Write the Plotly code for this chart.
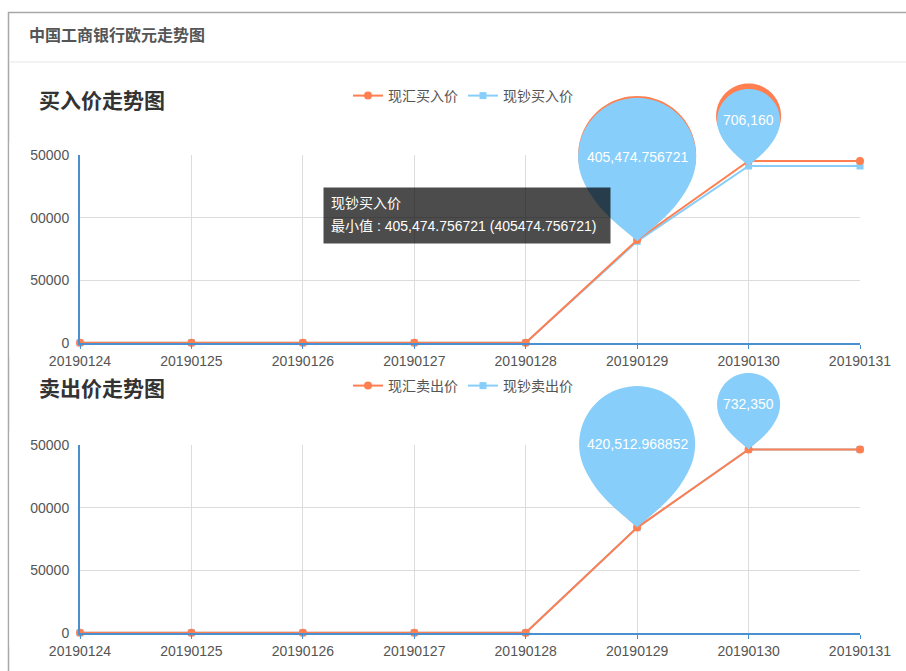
import math
import plotly.graph_objects as go

# ---------------- data ----------------
dates = ['20190124', '20190125', '20190126', '20190127',
         '20190128', '20190129', '20190130', '20190131']
buy_spot = [772.9, 773.4, 774.0, 774.0, 771.9, 411000, 726000, 726000]            # 现汇买入价
buy_cash = [748.9, 749.4, 750.0, 750.0, 748.0, 405474.756721, 706160, 706160]     # 现钞买入价
sell_spot = [776.1, 776.6, 777.2, 777.2, 775.0, 420512.968852, 732350, 732350]    # 现汇卖出价
sell_cash = [776.1, 776.6, 777.2, 777.2, 775.0, 420512.968852, 732350, 732350]    # 现钞卖出价
y_ticks = [0, 250000, 500000, 750000]
y_tick_text = ['0', '250000', '500000', '750000']
mark_min_date = '20190129'
mark_max_date = '20190130'

# ---------------- style / layout constants ----------------
W, H = 906, 671
ORANGE = '#ff7f50'
BLUE = '#87cefa'
AXIS = '#4a8fd0'
GRID = '#dcdcdc'
FONT = 'Liberation Sans, Arial, Noto Sans CJK SC, sans-serif'
XL, XR = 80, 860
PLOTS = [(155, 343), (445, 633)]      # top, bottom (px)
PIN_TOPS = [70, 362]                  # top of the transparent pin layers (px)
YMAX = y_ticks[-1]


def fx(px):
    return px / W


def fy(px):
    return 1 - px / H


def pin_path(r, T, n=56):
    """Map-pin (droplet) symbol: circle radius r, total height T, tip at (0,0), pixels, y up."""
    D = T - r                       # tip distance below circle centre
    a = math.radians(25)
    pts = []
    for i in range(n + 1):
        t = math.pi - a + (math.pi + 2 * a) * i / n
        pts.append((r * math.cos(t), r * math.sin(t)))   # y down, centre at origin

    def bez(p0, p1, p2, p3, m=20):
        out = []
        for i in range(1, m + 1):
            s = i / m
            b0, b1, b2, b3 = (1 - s) ** 3, 3 * s * (1 - s) ** 2, 3 * s * s * (1 - s), s ** 3
            out.append((b0 * p0[0] + b1 * p1[0] + b2 * p2[0] + b3 * p3[0],
                        b0 * p0[1] + b1 * p1[1] + b2 * p2[1] + b3 * p3[1]))
        return out
    P0 = (r * math.cos(a), r * math.sin(a))
    C1 = (P0[0] - 0.6 * r * math.sin(a), P0[1] + 0.6 * r * math.cos(a))
    C2 = (0.213 * r, D - 0.213 * r)
    tip = (0, D)
    pts += bez(P0, C1, C2, tip)
    pts += bez(tip, (-C2[0], C2[1]), (-C1[0], C1[1]), (-P0[0], P0[1]))
    return 'M ' + ' L '.join(f'{x:.2f},{D - y:.2f}' for x, y in pts) + ' Z'


fig = go.Figure()

charts = [
    dict(title='买入价走势图', spot=buy_spot, cash=buy_cash, names=('现汇买入价', '现钞买入价'),
         xa='x', ya='y', px='x3', py='y3', legend='legend'),
    dict(title='卖出价走势图', spot=sell_spot, cash=sell_cash, names=('现汇卖出价', '现钞卖出价'),
         xa='x2', ya='y2', px='x4', py='y4', legend='legend2'),
]

for c in charts:
    fig.add_trace(go.Scatter(
        x=dates, y=c['cash'], name=c['names'][1], mode='lines+markers',
        line=dict(color=BLUE, width=2), marker=dict(symbol='square', size=7, color=BLUE),
        xaxis=c['xa'], yaxis=c['ya'], legend=c['legend'], legendrank=2, cliponaxis=False,
        hoverinfo='skip'))
    fig.add_trace(go.Scatter(
        x=dates, y=c['spot'], name=c['names'][0], mode='lines+markers',
        line=dict(color=ORANGE, width=2), marker=dict(symbol='circle', size=8, color=ORANGE),
        xaxis=c['xa'], yaxis=c['ya'], legend=c['legend'], legendrank=1, cliponaxis=False,
        hoverinfo='skip'))

shapes = []
annotations = []

# panel frame
shapes.append(dict(type='line', xref='paper', yref='paper', x0=fx(8.5), x1=fx(8.5), y0=fy(12), y1=0,
                   line=dict(color='#a8a8a8', width=1.5)))
shapes.append(dict(type='line', xref='paper', yref='paper', x0=fx(8), x1=1, y0=fy(12.5), y1=fy(12.5),
                   line=dict(color='#a8a8a8', width=1.5)))
shapes.append(dict(type='line', xref='paper', yref='paper', x0=fx(9.5), x1=1, y0=fy(62), y1=fy(62),
                   line=dict(color='#eeeeee', width=1.5)))
annotations.append(dict(text='<b>中国工商银行欧元走势图</b>', xref='paper', yref='paper', x=fx(27), y=fy(35),
                        xanchor='left', yanchor='middle', showarrow=False,
                        font=dict(size=16, color='#555', family=FONT)))

pin_sizes = {  # (r, total height) per series / mark
    0: {'spot': {'min': (59, 144), 'max': (32.5, 77.5)}, 'cash': {'min': (59, 143.5), 'max': (31.5, 77)}},
    1: {'spot': {'min': (57, 140.5), 'max': (30.5, 75.5)}, 'cash': {'min': (58, 141.5), 'max': (31.5, 76.5)}},
}

for k, c in enumerate(charts):
    top, bot = PLOTS[k]
    title_y = 100 if k == 0 else 388
    annotations.append(dict(text=f"<b>{c['title']}</b>", xref='paper', yref='paper', x=fx(37), y=fy(title_y),
                            xanchor='left', yanchor='middle', showarrow=False,
                            font=dict(size=21, color='#333', family=FONT)))
    # mask that clips the leading digit of the y tick labels
    shapes.append(dict(type='rect', xref='paper', yref='paper', x0=fx(9.5), x1=fx(30),
                       y0=fy(bot + 14), y1=fy(top - 14), fillcolor='white', line=dict(width=0),
                       layer='above'))
    # markPoints (pins): min and max of each series, drawn on a taller transparent layer
    mk_x, mk_y = [], []
    for key in ('spot', 'cash'):
        for d in (mark_min_date, mark_max_date):
            i = dates.index(d)
            v = c[key][i]
            mk_x.append(i)
            mk_y.append(v)
            kind = 'min' if d == mark_min_date else 'max'
            r, T = pin_sizes[k][key][kind]
            col = ORANGE if key == 'spot' else BLUE
            shapes.append(dict(type='path', xref=c['px'], yref=c['py'], xsizemode='pixel', ysizemode='pixel',
                               xanchor=i, yanchor=v, path=pin_path(r, T), fillcolor=col,
                               line=dict(width=0), layer='above'))
            if key == 'cash':
                annotations.append(dict(text=f'{v:,}', xref=c['px'], yref=c['py'], x=i, y=v, yshift=T - r,
                                        showarrow=False, xanchor='center', yanchor='middle',
                                        font=dict(size=14, color='white', family=FONT)))
    fig.add_trace(go.Scatter(x=mk_x, y=mk_y, mode='markers', marker=dict(size=1, opacity=0),
                             showlegend=False, hoverinfo='skip', xaxis=c['px'], yaxis=c['py']))

# tooltip (min of 现钞买入价) - drawn as annotations so it sits above the pins
tip_val = buy_cash[dates.index(mark_min_date)]
annotations.append(dict(text=' ', xref='paper', yref='paper', x=fx(323), y=fy(187),
                        xanchor='left', yanchor='top', showarrow=False, width=282, height=51,
                        borderpad=2, bgcolor='rgba(0,0,0,0.7)', font=dict(size=14, color='white')))
annotations.append(dict(text=charts[0]['names'][1], xref='paper', yref='paper', x=fx(329), y=fy(203),
                        xanchor='left', yanchor='middle', showarrow=False,
                        font=dict(size=14, color='white', family=FONT)))
annotations.append(dict(text=f'最小值 : {tip_val:,} ({tip_val})', xref='paper', yref='paper', x=fx(329), y=fy(226),
                        xanchor='left', yanchor='middle', showarrow=False,
                        font=dict(size=14, color='white', family=FONT)))

layout = dict(
    template='none',
    width=W, height=H, margin=dict(l=0, r=0, t=0, b=0, pad=0), autosize=False,
    paper_bgcolor='white', plot_bgcolor='rgba(0,0,0,0)',
    font=dict(family=FONT, size=14, color='#555'),
    shapes=shapes, annotations=annotations, hovermode=False,
    legend=dict(orientation='h', x=fx(348), xanchor='left', y=fy(96), yanchor='middle',
                font=dict(size=14, color='#555'), bgcolor='rgba(0,0,0,0)', itemwidth=30),
    legend2=dict(orientation='h', x=fx(348), xanchor='left', y=fy(386), yanchor='middle',
                 font=dict(size=14, color='#555'), bgcolor='rgba(0,0,0,0)', itemwidth=30),
)

for k in range(2):
    top, bot = PLOTS[k]
    xn, yn = ('xaxis', 'yaxis') if k == 0 else ('xaxis2', 'yaxis2')
    layout[xn] = dict(domain=[fx(XL), fx(XR)], anchor='y' if k == 0 else 'y2', type='category',
                      categoryorder='array', categoryarray=dates, range=[0, len(dates) - 1],
                      tickmode='array', tickvals=dates, showgrid=True, gridcolor=GRID, gridwidth=1,
                      showline=True, linecolor=AXIS, linewidth=2, ticks='outside', ticklen=4,
                      tickcolor=AXIS, tickwidth=1, tickfont=dict(size=14, color='#555'),
                      zeroline=False, fixedrange=True, automargin=False)
    layout[yn] = dict(domain=[fy(bot), fy(top)], anchor='x' if k == 0 else 'x2', range=[0, YMAX],
                      tickmode='array', tickvals=y_ticks, ticktext=y_tick_text, showgrid=True,
                      gridcolor=GRID, gridwidth=1, showline=True, linecolor=AXIS, linewidth=2,
                      ticks='', ticklabelstandoff=6, tickfont=dict(size=14, color='#555'),
                      zeroline=False, fixedrange=True, automargin=False)
    # transparent pin layer: same x scale, same y scale, taller domain
    pxn, pyn = ('xaxis3', 'yaxis3') if k == 0 else ('xaxis4', 'yaxis4')
    ptop = PIN_TOPS[k]
    layout[pxn] = dict(domain=[fx(XL), fx(XR)], anchor='y3' if k == 0 else 'y4', type='linear',
                       range=[0, len(dates) - 1], showticklabels=False, showline=False, ticks='',
                       showgrid=False, zeroline=False, fixedrange=True, automargin=False)
    layout[pyn] = dict(domain=[fy(bot), fy(ptop)], anchor='x3' if k == 0 else 'x4', type='linear',
                       range=[0, YMAX * (bot - ptop) / (bot - top)], showticklabels=False,
                       showline=False, ticks='', showgrid=False, zeroline=False, fixedrange=True,
                       automargin=False)

fig.update_layout(**layout)
fig.write_html('out.html', config={'displayModeBar': False, 'responsive': False},
               post_script="document.body.style.margin='0';")
